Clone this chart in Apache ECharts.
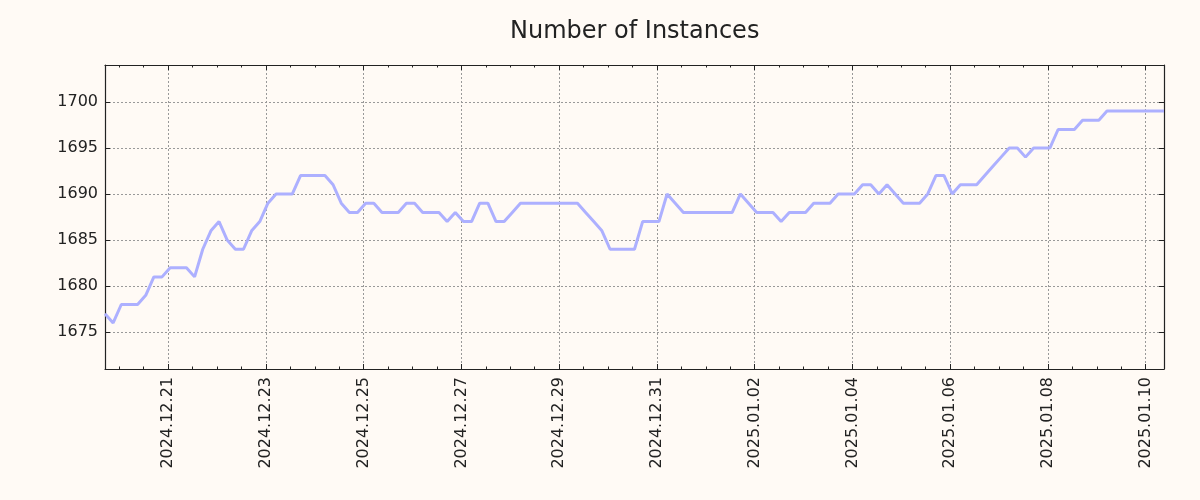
<!DOCTYPE html>
<html>
<head>
<meta charset="utf-8">
<script src="https://cdn.jsdelivr.net/npm/echarts@6/dist/echarts.min.js"></script>
<style>
html,body{margin:0;padding:0;background:#fffaf5;}
#chart{width:1200px;height:500px;}
</style>
</head>
<body>
<div id="chart"></div>
<script>
// Data: one reading every 4 hours starting 2024-12-19 17:00 UTC
const startTime = '2024-12-19T17:00:00Z';
const stepHours = 4;
const instances = [
  1677,1676,1678,1678,1678,1679,1681,1681,1682,1682,1682,
  1681,1684,1686,1687,1685,1684,1684,1686,1687,1689,1690,
  1690,1690,1692,1692,1692,1692,1691,1689,1688,1688,
  1689,1689,1688,1688,1688,1689,1689,1688,1688,1688,1687,
  1688,1687,1687,1689,1689,1687,1687,1688,1689,1689,
  1689,1689,1689,1689,1689,1689,1688,1687,1686,1684,
  1684,1684,1684,1687,1687,1687,1690,1689,1688,1688,
  1688,1688,1688,1688,1688,1690,1689,1688,1688,1688,1687,1688,
  1688,1688,1689,1689,1689,1690,1690,1690,1691,1691,
  1690,1691,1690,1689,1689,1689,1690,1692,1692,1690,1691,
  1691,1691,1692,1693,1694,1695,1695,1694,1695,1695,1695,
  1697,1697,1697,1698,1698,1698,1699,1699,1699,1699,1699,1699,1699,1699
];
const yMin = 1671, yMax = 1704;

const DAY = 86400000;
const startDay = Date.parse(startTime) / DAY;
const points = instances.map((v, i) => [startDay + i * stepHours / 24, v]);
const xMin = points[0][0];
const xMax = points[points.length - 1][0];

function fmtDate(v) {
  const d = new Date(Math.round(v * DAY));
  const p = n => String(n).padStart(2, '0');
  return d.getUTCFullYear() + '.' + p(d.getUTCMonth() + 1) + '.' + p(d.getUTCDate());
}

const font = 'DejaVu Sans';
const axisColor = '#222222';
const gridLine = { show: true, lineStyle: { color: '#999999', width: 1, type: [2, 2] } };

function xAxisCfg(pos, labels) {
  return {
    type: 'value', position: pos, min: xMin, max: xMax,
    minInterval: 2, maxInterval: 2,
    axisLine: { show: true, lineStyle: { color: axisColor, width: 1.2 } },
    axisTick: { show: true, inside: true, length: 5, lineStyle: { color: axisColor, width: 1 } },
    minorTick: { show: true, splitNumber: 4, length: 2.5, lineStyle: { color: axisColor, width: 1 } },
    splitLine: labels ? gridLine : { show: false },
    axisLabel: labels ? {
      show: true, rotate: 90, margin: 8, fontFamily: font, fontSize: 16, color: '#222',
      showMinLabel: false, showMaxLabel: false, formatter: fmtDate
    } : { show: false }
  };
}
function yAxisCfg(pos, labels) {
  return {
    type: 'value', position: pos, min: yMin, max: yMax,
    minInterval: 5, maxInterval: 5,
    axisLine: { show: true, lineStyle: { color: axisColor, width: 1.2 } },
    axisTick: { show: true, inside: true, length: 5, lineStyle: { color: axisColor, width: 1 } },
    splitLine: labels ? gridLine : { show: false },
    axisLabel: labels ? {
      show: true, margin: 7, fontFamily: font, fontSize: 16, color: '#222',
      showMinLabel: false, showMaxLabel: false, formatter: v => String(v)
    } : { show: false }
  };
}

const chart = echarts.init(document.getElementById('chart'), null, { renderer: 'canvas' });
chart.setOption({
  animation: false,
  backgroundColor: '#fffaf5',
  title: {
    text: 'Number of Instances', left: 510, top: 20, padding: 0,
    textStyle: { fontFamily: font, fontSize: 24, fontWeight: 'normal', color: '#222' }
  },
  grid: { left: 105, right: 36, top: 65, bottom: 131, containLabel: false },
  xAxis: [xAxisCfg('bottom', true), xAxisCfg('top', false)],
  yAxis: [yAxisCfg('left', true), yAxisCfg('right', false)],
  series: [{
    type: 'line', xAxisIndex: 0, yAxisIndex: 0,
    data: points, showSymbol: false, symbol: 'none',
    lineStyle: { color: '#adb0ff', width: 3 }, z: 3
  }]
});
</script>
</body>
</html>
